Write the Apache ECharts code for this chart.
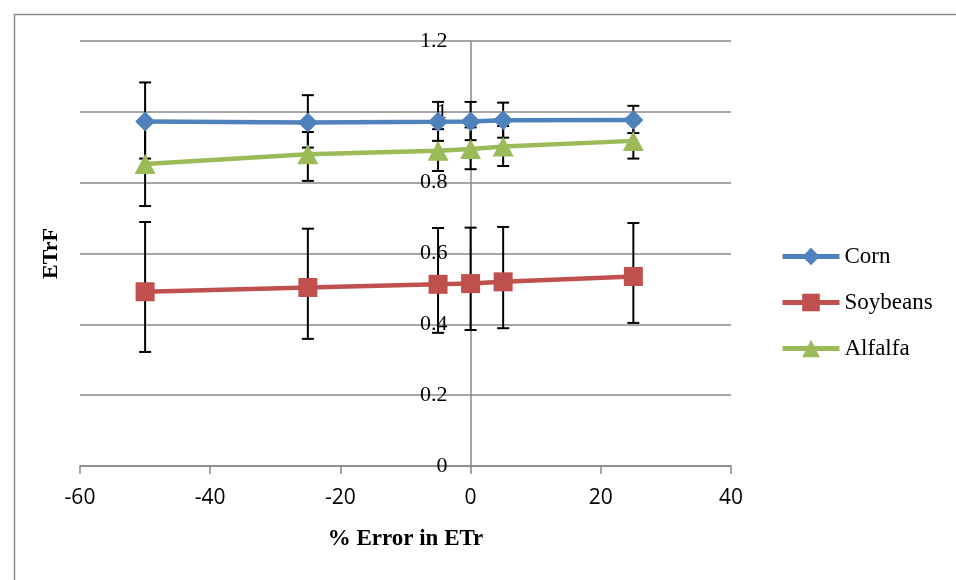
<!DOCTYPE html>
<html>
<head>
<meta charset="utf-8">
<script src="https://cdn.jsdelivr.net/npm/echarts@6/dist/echarts.min.js"></script>
<style>
html,body{margin:0;padding:0;background:#fff;}
#chart{width:956px;height:580px;}
</style>
</head>
<body>
<div id="chart"></div>
<script>
// ---- data ----
var xValues = [-50, -25, -5, 0, 5, 25];
var corn = [0.973, 0.970, 0.972, 0.973, 0.976, 0.977];
var cornLow = [0.868, 0.899, 0.918, 0.920, 0.927, 0.940];
var cornHigh = [1.083, 1.047, 1.028, 1.028, 1.026, 1.017];
var soybeans = [0.492, 0.504, 0.513, 0.515, 0.520, 0.535];
var soyLow = [0.322, 0.359, 0.376, 0.384, 0.389, 0.404];
var soyHigh = [0.689, 0.670, 0.672, 0.673, 0.675, 0.686];
var alfalfa = [0.853, 0.880, 0.890, 0.895, 0.902, 0.918];
var alfLow = [0.734, 0.805, 0.833, 0.838, 0.847, 0.868];
var alfHigh = [0.973, 0.943, 0.951, 0.956, 0.960, 0.968];
var seriesNames = ['Corn', 'Soybeans', 'Alfalfa'];
var xTitle = '% Error in ETr';
var yTitle = 'ETrF';

function pairs(ys) { return xValues.map(function (x, i) { return [x, ys[i]]; }); }
function errs(lo, hi) { return xValues.map(function (x, i) { return [x, lo[i], hi[i]]; }); }

function errorRender(params, api) {
  var x = api.value(0);
  var lo = api.coord([x, api.value(1)]);
  var hi = api.coord([x, api.value(2)]);
  var cap = 6;
  var st = { stroke: '#000', lineWidth: 2 };
  return {
    type: 'group',
    children: [
      { type: 'line', shape: { x1: lo[0], y1: lo[1], x2: hi[0], y2: hi[1] }, style: st },
      { type: 'line', shape: { x1: lo[0] - cap, y1: lo[1], x2: lo[0] + cap, y2: lo[1] }, style: st },
      { type: 'line', shape: { x1: hi[0] - cap, y1: hi[1], x2: hi[0] + cap, y2: hi[1] }, style: st }
    ]
  };
}

var colors = ['#4F81BD', '#C0504D', '#9BBB59'];
var serif = '"Liberation Serif", "Times New Roman", serif';
var gridLeft = 80, gridRight = 225, xMin = -60, xMax = 40;
// y axis crosses the x axis at x = 0: shift it right by the pixel distance of 0 from xMin
var yAxisShift = (956 - gridLeft - gridRight) * (0 - xMin) / (xMax - xMin);

var chart = echarts.init(document.getElementById('chart'), null, { renderer: 'canvas' });
chart.setOption({
  animation: false,
  color: colors,
  grid: { left: gridLeft, right: gridRight, top: 41, bottom: 114, containLabel: false, outerBoundsMode: 'none' },
  graphic: [{
    type: 'rect', left: 12, top: 12, silent: true,
    shape: { width: 1000, height: 700 },
    style: { fill: 'none', stroke: '#8a8a8a', lineWidth: 1.5 }
  }],
  legend: {
    data: seriesNames,
    orient: 'vertical',
    left: 780, top: 245,
    padding: 0,
    itemWidth: 57, itemHeight: 22,
    itemGap: 23,
    lineStyle: { width: 5 },
    textStyle: { fontFamily: serif, fontSize: 23, color: '#000' }
  },
  xAxis: {
    type: 'value', min: xMin, max: xMax, interval: 20,
    name: xTitle, nameLocation: 'middle', nameGap: 62,
    nameTextStyle: { fontFamily: serif, fontSize: 23, fontWeight: 'bold', color: '#000' },
    axisLine: { show: true, onZero: false, lineStyle: { color: '#888', width: 1.5 } },
    axisTick: { show: true, inside: false, length: 8, lineStyle: { color: '#888', width: 1.5 } },
    axisLabel: { margin: 22, fontFamily: '"Open Sans", sans-serif', fontSize: 21, color: '#000' },
    splitLine: { show: false }
  },
  yAxis: {
    type: 'value', min: 0, max: 1.2, interval: 0.2,
    position: 'left', offset: -yAxisShift,
    name: yTitle, nameLocation: 'middle', nameGap: 408,
    nameTextStyle: { fontFamily: serif, fontSize: 22, fontWeight: 'bold', color: '#000' },
    axisLine: { show: true, onZero: false, lineStyle: { color: '#888', width: 1.5 } },
    axisTick: { show: false },
    axisLabel: { margin: 23, fontFamily: serif, fontSize: 22, color: '#000' },
    splitLine: { show: true, lineStyle: { color: '#888', width: 1.5 } }
  },
  series: [
    { type: 'custom', name: 'err-corn', z: 1, renderItem: errorRender, data: errs(cornLow, cornHigh), encode: { x: 0, y: [1, 2] } },
    { type: 'custom', name: 'err-soy', z: 1, renderItem: errorRender, data: errs(soyLow, soyHigh), encode: { x: 0, y: [1, 2] } },
    { type: 'custom', name: 'err-alf', z: 1, renderItem: errorRender, data: errs(alfLow, alfHigh), encode: { x: 0, y: [1, 2] } },
    { type: 'line', name: seriesNames[0], data: pairs(corn), z: 3, symbol: 'diamond', symbolSize: 20,
      lineStyle: { width: 4.5, color: colors[0] }, itemStyle: { color: colors[0] } },
    { type: 'line', name: seriesNames[1], data: pairs(soybeans), z: 3, symbol: 'rect', symbolSize: 19,
      lineStyle: { width: 4.5, color: colors[1] }, itemStyle: { color: colors[1] } },
    { type: 'line', name: seriesNames[2], data: pairs(alfalfa), z: 3, symbol: 'triangle', symbolSize: [21, 20],
      lineStyle: { width: 4.5, color: colors[2] }, itemStyle: { color: colors[2] } }
  ]
});
</script>
</body>
</html>
